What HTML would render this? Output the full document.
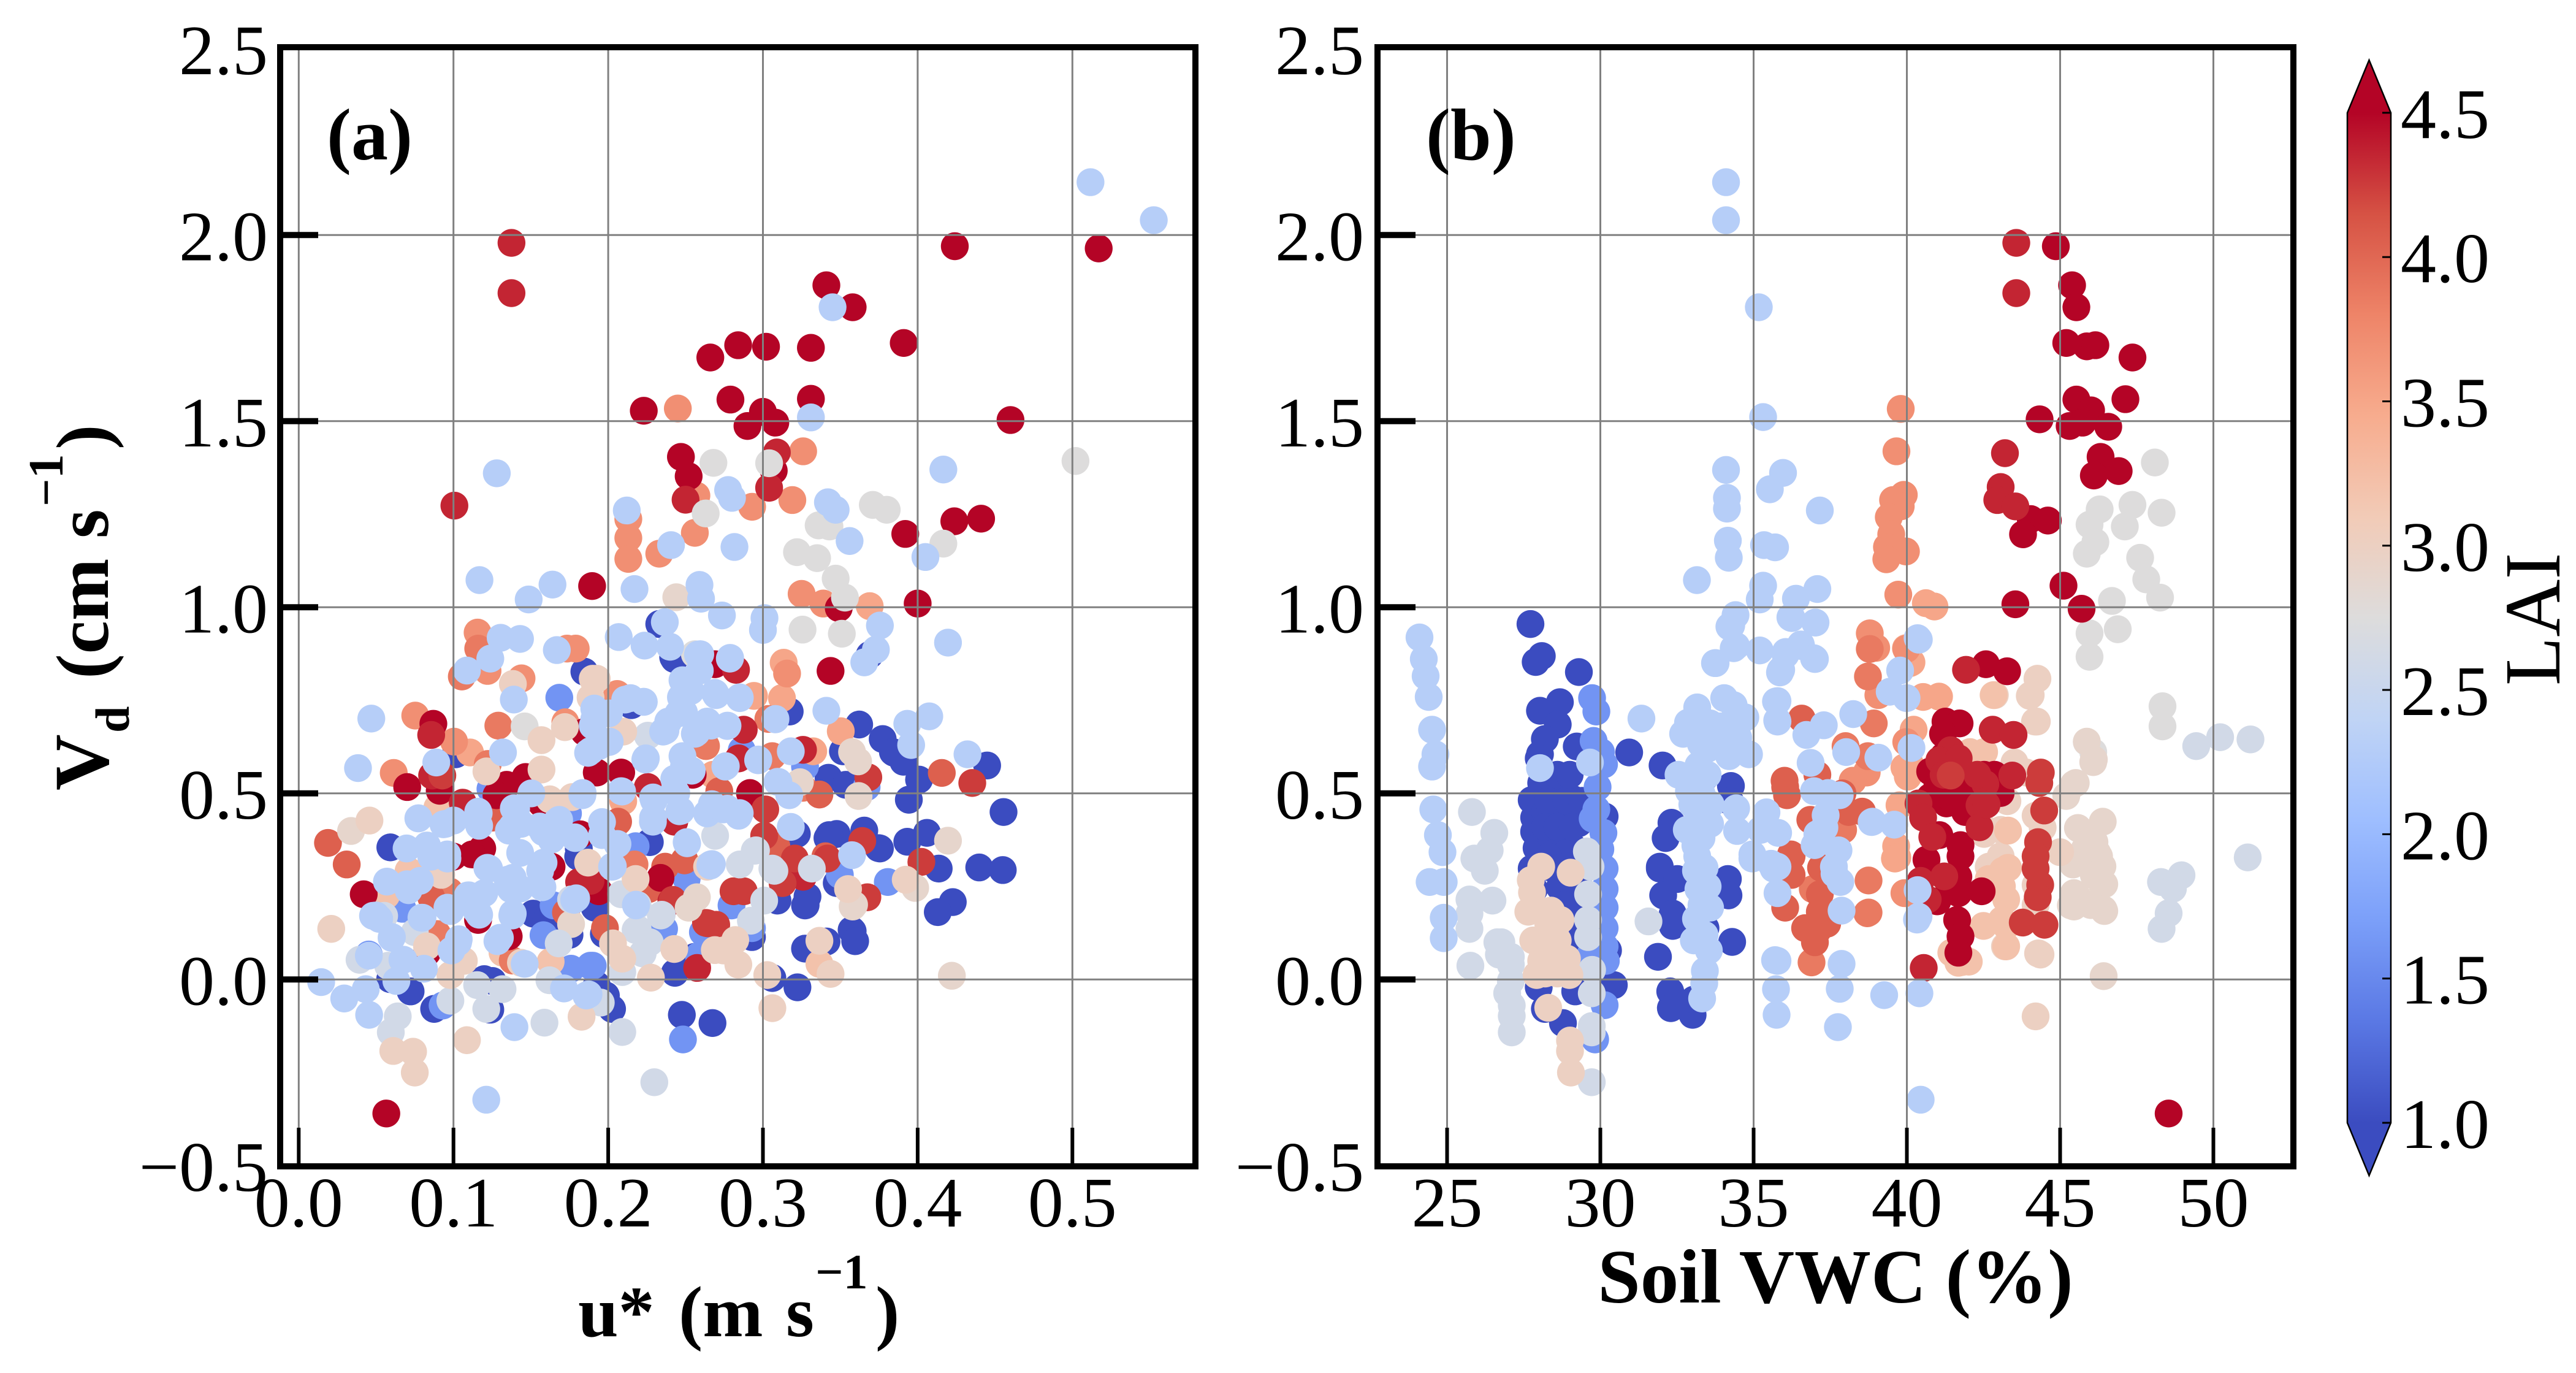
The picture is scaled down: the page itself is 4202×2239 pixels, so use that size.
<!DOCTYPE html>
<html lang="en">
<head>
<meta charset="utf-8">
<title>Vd versus u* and Soil VWC coloured by LAI</title>
<style>
html,body{margin:0;padding:0;background:#fff;width:4202px;height:2239px;overflow:hidden}
svg{display:block}
text{font-family:"Liberation Serif",serif;fill:#000}
.b{font-weight:bold}
</style>
</head>
<body>
<svg id="fig" xmlns="http://www.w3.org/2000/svg" width="4202" height="2239" viewBox="0 0 4202 2239">
<defs>
<linearGradient id="cbGrad" x1="0" y1="1" x2="0" y2="0"></linearGradient>
<clipPath id="clipA"><rect x="457" y="77" width="1493" height="1825"/></clipPath>
<clipPath id="clipB"><rect x="2247" y="77" width="1494" height="1825"/></clipPath>
</defs>
<g id="pointsA" clip-path="url(#clipA)"></g>
<g id="pointsB" clip-path="url(#clipB)"></g>
<g id="gridA"></g>
<g id="gridB"></g>
<g id="ticksA"></g>
<g id="ticksB"></g>
<rect x="457" y="77" width="1493" height="1825" fill="none" stroke="#000" stroke-width="10"/>
<rect x="2247" y="77" width="1494" height="1825" fill="none" stroke="#000" stroke-width="10"/>
<text class="b" x="533" y="260" font-size="120">(a)</text>
<text class="b" x="2326" y="260" font-size="120">(b)</text>

<g>
<text class="b" font-size="127" transform="translate(176,1289) rotate(-90)">V</text>
<text class="b" font-size="78" transform="translate(210,1195) rotate(-90)">d</text>
<text class="b" font-size="122" transform="translate(176,1107) rotate(-90)">(cm</text>
<text class="b" font-size="122" transform="translate(176,878) rotate(-90)">s</text>
<text class="b" font-size="80" transform="translate(102,826) rotate(-90)">−1</text>
<text class="b" font-size="122" transform="translate(176,733) rotate(-90)">)</text>
</g>
<g>
<text class="b" font-size="118" x="943" y="2179">u*</text>
<text class="b" font-size="118" x="1107" y="2179">(m</text>
<text class="b" font-size="118" x="1282" y="2179">s</text>
<text class="b" font-size="80" x="1330" y="2101">−1</text>
<text class="b" font-size="118" x="1428" y="2179">)</text>
</g>
<text class="b" x="2994" y="2124" font-size="125" text-anchor="middle">Soil VWC (%)</text>

<g id="colorbar">
<polygon points="3864.5,98 3900,184 3829,184" fill="#b40426"/>
<polygon points="3864.5,1917 3900,1831 3829,1831" fill="#3b4cc0"/>
<rect x="3829" y="184" width="71" height="1647" fill="url(#cbGrad)"/>
<polygon points="3864.5,98 3900,184 3900,1831 3864.5,1917 3829,1831 3829,184" fill="none" stroke="#000" stroke-width="2.5"/>
<g id="cbTicks"></g>
</g>
<text font-size="130" transform="translate(4175,1118) rotate(-90)">LAI</text>
</svg>

<script>
// Tick labels
const uTicks = [0.0, 0.1, 0.2, 0.3, 0.4, 0.5];
const vwcTicks = [25, 30, 35, 40, 45, 50];
const vdTicks = [-0.5, 0.0, 0.5, 1.0, 1.5, 2.0, 2.5];
const laiTicks = [1.0, 1.5, 2.0, 2.5, 3.0, 3.5, 4.0, 4.5];

// Panel (a): [u*, Vd] pairs, one array per LAI level
const a100 = [[.233,.955],[.369,.872],[.2427,.861],[.1846,.827],[.1014,.605],[.0592,.355],[.181,.352],[.242,.866],[.215,.737],[.3173,.72],[.3622,.685],[.3774,.646],[.384,.611],[.3517,.613],[.3847,.609],[.3908,.585],[.3424,.542],[.3536,.523],[.2269,.369],[.3219,.391],[.3417,.38],[.3477,.391],[.3655,.4],[.3747,.353],[.4449,.575],[.4555,.45],[.4009,.537],[.3943,.483],[.3428,.388],[.3756,.352],[.3933,.37],[.406,.394],[.4136,.298],[.4398,.301],[.455,.294],[.4227,.208],[.413,.181],[.3276,.2],[.358,.13],[.3477,.259],[.3288,.223],[.3272,.199],[.3094,.212],[.2929,.114],[.256,.061],[.2431,.018],[.1913,.193],[.1972,.122],[.1926,-.015],[.2025,-.079],[.1985,-.043],[.2476,-.095],[.2674,-.117],[.3061,.004],[.3223,-.021],[.3272,.083],[.3411,.102],[.3573,.133],[.3596,.103],[.0591,.001],[.0723,-.032],[.0875,-.079],[.1199,.001],[.1252,-.004],[.1238,-.081],[.1515,.177],[.1806,.33],[.16,.16],[.175,.12],[.23,.25],[.27,.1]];
const a160 = [[.1684,.757],[.3272,.572],[.367,.517],[.2863,.616],[.1239,.512],[.174,.446],[.2177,.358],[.067,.19],[.0453,.067],[.093,-.07],[.1582,.119],[.176,.029],[.1885,.037],[.1647,.199],[.3497,.281],[.3807,.262],[.2507,.27],[.2797,.199],[.2929,.138],[.2612,.127],[.2586,.064],[.19,.037],[.2483,-.161],[.2361,.136]];
const a320 = [[.0896,.462],[.071,.292],[.0565,.226],[.1317,.072],[.1628,.048],[.3365,.042]];
const a350 = [[.1107,.61],[.2942,.762],[.3134,.851],[.3123,.756],[.3503,.667],[.3325,.613],[.2097,.479],[.2678,.55],[.369,1.003]];
const a370 = [[.245,1.534],[.257,1.30],[.326,1.419],[.293,1.27],[.319,1.288],[.213,1.237],[.213,1.186],[.213,1.13],[.233,1.144],[.256,1.2],[.325,1.036],[.339,1.01],[.1156,.932],[.122,.829],[.1734,.889],[.179,.889],[.144,.809],[.0753,.709],[.1004,.639],[.1723,.691],[.0614,.555],[.3156,.822],[.2058,.767]];
const a387 = [[.116,.889],[.1054,.814],[.129,.682],[.1222,.579],[.3035,.7],[.306,.6],[.2632,.627],[.3259,.515],[.0974,.237],[.0895,.122],[.1383,.051],[.217,.309]];
const a405 = [[.0189,.367],[.1252,.435],[.2718,.506],[.2064,.424],[.3365,.497],[.3087,.358],[.3404,.331],[.031,.309],[.0856,.221],[.1727,.18],[.2368,.303],[.2493,.32],[.2262,.243],[.1979,.138],[.4156,.555]];
const a450 = [[.424,1.97],[.517,1.964],[.341,1.865],[.358,1.806],[.266,1.671],[.284,1.704],[.302,1.70],[.331,1.697],[.391,1.71],[.223,1.528],[.279,1.558],[.30,1.525],[.331,1.56],[.29,1.487],[.308,1.496],[.46,1.503],[.247,1.404],[.252,1.352],[.307,1.367],[.392,1.197],[.4237,1.231],[.441,1.238],[.1896,1.057],[.349,.998],[.4,1.01],[.269,.847],[.3437,.829],[.087,.687],[.1846,.665],[.0701,.517],[.0911,.507],[.1466,.544],[.1344,.523],[.1278,.495],[.1569,.473],[.182,.39],[.1186,.352],[.2916,.501],[.2546,.55],[.2084,.556],[.1926,.556],[.042,.229],[.0829,.072],[.1159,.16],[.1357,.116],[.1634,.303],[.112,.336],[.1832,.259],[.2338,.273],[.1939,.237],[.0566,-.36],[.1,.33]];
const a435 = [[.1375,1.979],[.1375,1.844],[.25,1.289],[.309,1.416],[.304,1.321],[.1006,1.273],[.2826,.832],[.0856,.657],[.0862,.548],[.106,.475],[.2876,.671],[.3259,.617],[.2843,.594],[.2256,.517],[.2427,.424],[.1812,.262],[.1886,.265],[.2408,.21],[.3259,.276],[.2575,.031]];
const a425 = [[.0928,.548],[.3681,.543],[.3015,.457],[.3008,.386],[.3206,.325],[.3642,.372],[.4024,.316],[.4353,.528],[.3127,.259],[.3417,.325],[.3675,.221],[.281,.237],[.2876,.237],[.2632,.152],[.2698,.147],[.2417,.214],[.2644,.151]];
const a290 = [[.0338,.399],[.3576,.611],[.3615,.586],[.3239,.53],[.3618,.493],[.3589,.201],[.176,.149],[.2573,.221],[.252,.193],[.4196,.373],[.3984,.246],[.358,.196],[.4221,.01],[.244,1.027]];
const a275 = [[.268,1.388],[.304,1.387],[.502,1.393],[.371,1.275],[.38,1.262],[.336,1.22],[.343,1.217],[.263,1.252],[.4166,1.171],[.322,1.148],[.335,1.132],[.347,1.077],[.353,1.026],[.3256,.94],[.351,.929],[.146,.68],[.256,.874]];
const a260 = [[.2256,.655],[.0552,.171],[.075,.127],[.0393,.053],[.0578,.037],[.064,-.099],[.0595,-.142],[.098,-.057],[.1153,-.015],[.1317,-.026],[.1212,-.079],[.1588,-.116],[.168,.097],[.162,-.002],[.176,.215],[.2084,.229],[.285,.309],[.3061,.298],[.3316,.298],[.3008,.212],[.2922,.158],[.2346,.174],[.2177,.133],[.2223,.07],[.2269,.1],[.2091,.02],[.1952,-.062],[.2091,-.141],[.2298,-.276],[.2955,.347],[.2691,.386],[.2947,.346],[.3074,.292],[.219,.2],[.234,.172],[.219,.136],[.226,.1]];
const a300 = [[.1384,.794],[.1886,.757],[.19,.808],[.172,.678],[.1569,.643],[.1213,.559],[.1569,.564],[.1622,.484],[.1767,.49],[.0457,.427],[.021,.136],[.2097,.666],[.1926,.808],[.0829,.089],[.098,.012],[.1067,.05],[.0611,-.192],[.0739,-.194],[.075,-.25],[.1087,-.163],[.1828,-.1],[.0921,.281],[.187,.314],[.1436,.045],[.2639,.303],[.2177,.27],[.355,.243],[.2689,.079],[.2821,.106],[.2841,.04],[.2744,.078],[.2427,.082],[.2276,.005],[.2091,.056],[.2031,.097],[.3028,.012],[.3061,-.077],[.3437,.015],[.3365,.104],[.3923,.268]];
const a230 = [[.5117,2.142],[.5526,2.04],[.345,1.806],[.331,1.51],[.4166,1.37],[.128,1.36],[.2775,1.315],[.28,1.294],[.342,1.282],[.347,1.262],[.212,1.26],[.2406,1.167],[.2816,1.162],[.356,1.178],[.405,1.135],[.1168,1.073],[.164,1.061],[.1486,1.021],[.217,1.049],[.259,1.06],[.26,1.023],[.2366,.96],[.2735,.978],[.301,.971],[.30,.939],[.3756,.951],[.4196,.905],[.373,.886],[.3655,.852],[.2068,.92],[.2235,.897],[.24,.894],[.258,.873],[.2786,.862],[.1305,.918],[.143,.915],[.1238,.862],[.1087,.83],[.1668,.885],[.139,.752],[.0469,.701],[.19,.682],[.1886,.614],[.0383,.568],[.0889,.583],[.132,.61],[.1503,.5],[.1833,.495],[.139,.46],[.1358,.4],[.1437,.418],[.1668,.424],[.1787,.38],[.158,.396],[.1166,.413],[.116,.451],[.1001,.427],[.0948,.418],[.0773,.433],[.0697,.352],[.0829,.36],[.096,.336],[.2788,.864],[.2595,.874],[.2592,.83],[.248,.804],[.2533,.775],[.2698,.764],[.285,.756],[.3081,.7],[.341,.722],[.318,.613],[.3094,.531],[.317,.495],[.2771,.682],[.2665,.682],[.256,.66],[.2454,.715],[.2388,.693],[.2355,.666],[.2243,.594],[.248,.6],[.2427,.539],[.2757,.572],[.2969,.589],[.2678,.457],[.2639,.446],[.2744,.457],[.2843,.44],[.246,.452],[.2295,.482],[.2427,.506],[.2289,.424],[.2507,.369],[.2084,.506],[.2229,.746],[.2144,.756],[.1926,.715],[.2005,.638],[.1939,.627],[.2005,.715],[.318,.41],[.3576,.334],[.057,.263],[.071,.24],[.0783,.265],[.0961,.193],[.048,.171],[.052,.163],[.0602,.114],[.0793,.166],[.0677,.053],[.0809,.029],[.0631,-.004],[.0453,.064],[.0145,-.007],[.0294,-.051],[.0433,-.026],[.0455,-.095],[.1212,-.323],[.1394,-.128],[.1034,.108],[.0987,.078],[.1166,.174],[.1093,.226],[.1284,.103],[.1199,.232],[.1383,.177],[.137,.243],[.146,.042],[.1714,-.024],[.1859,-.043],[.1793,.218],[.1575,.248],[.1383,.273],[.1582,.314],[.1219,.3],[.0961,.325],[.0856,.33],[.2025,.303],[.2662,.309],[.2179,.201],[.1873,-.04],[.4075,.707],[.3933,.687],[.3958,.63],[.4322,.605],[.267,.31],[.0774,.433],[.0935,.417],[.1163,.447],[.1405,.459],[.138,.411],[.1557,.411],[.1683,.429],[.1431,.34],[.1633,.376],[.1785,.382],[.196,.423],[.196,.388],[.206,.364],[.1835,.501],[.191,.699],[.201,.639],[.187,.609],[.191,.728],[.211,.752],[.223,.746],[.229,.435],[.247,.453],[.251,.366],[.266,.306],[.267,.471],[.285,.447],[.277,.459],[.209,.505],[.229,.489],[.244,.501],[.249,.573],[.224,.591],[.254,.561],[.276,.573],[.297,.591],[.31,.531],[.237,.669],[.249,.717],[.264,.693],[.277,.681],[.257,.663],[.285,.758],[.269,.77],[.247,.758],[.308,.699],[.123,.298],[.135,.268],[.156,.292],[.143,.244],[.11,.226],[.115,.184],[.138,.172],[.13,.112],[.103,.1],[.098,.184],[.08,.166],[.07,.256],[.05,.172],[.06,.112],[.067,.053],[.138,.256],[.178,.214],[.218,.199],[.203,.304]];

// Panel (b): [soil VWC, Vd] pairs, one array per LAI level
const b100 = [[27.72,.955],[28.09,.869],[27.89,.853],[29.3,.826],[28.68,.745],[28.03,.722],[28.61,.685],[28.19,.646],[29.23,.626],[28.03,.605],[27.99,.594],[28.07,.528],[29.12,.484],[27.76,.482],[28.68,.462],[27.84,.397],[28.91,.435],[27.92,.353],[29.14,.353],[27.84,.435],[30.14,.438],[30.94,.61],[32.03,.575],[33.43,.545],[34.26,.52],[34.23,.479],[32.32,.421],[32.13,.38],[31.94,.303],[27.76,.298],[31.94,.298],[32.05,.226],[32.36,.177],[32.36,.144],[32.51,.27],[34.16,.27],[34.18,.226],[33.43,.138],[34.3,.101],[31.88,.061],[32.28,-.032],[32.3,-.077],[33.01,-.095],[33.05,-.054],[28.68,.248],[29.07,.215],[27.99,-.021],[29.18,-.032],[28.19,-.079],[28.78,-.117],[30.44,-.015],[30.25,.078],[27.84,.243],[29.14,.094],[28.3,.4],[28.5,.5],[28.4,.3],[29.3,.28],[28.2,.45],[28.3,.48],[28.9,.48],[29.3,.42],[28.4,.38],[28.9,.34],[28.2,.55],[28.6,.55],[29.0,.55],[28.2,.41],[28.6,.41],[29.1,.41],[29.4,.48],[28.3,.33],[28.7,.3],[29.2,.3],[28.8,.2],[29.0,.15]];
const b160 = [[29.73,.756],[29.87,.72],[29.78,.641],[30.02,.611],[30.12,.578],[29.91,.517],[29.87,.457],[29.75,.432],[30.1,.394],[30.14,.298],[30.14,.243],[30.14,.193],[30.14,.138],[30.14,.089],[30.18,.05],[29.68,.067],[30.14,-.069],[29.83,-.161],[30.0,.35]];
const b260 = [[29.56,.344],[25.81,.45],[26.54,.394],[26.39,.347],[25.89,.325],[26.23,.292],[25.73,.215],[26.48,.212],[25.73,.177],[25.73,.136],[25.76,.037],[26.64,.1],[26.77,.1],[26.69,.067],[27.08,.04],[27.08,-.004],[26.96,-.037],[27.11,-.07],[27.11,-.098],[27.11,-.142],[27.08,.061],[29.6,.229],[29.6,.16],[29.6,.114],[29.73,.026],[29.72,-.037],[29.72,-.125],[29.72,-.142],[29.72,-.276],[31.57,.156],[29.68,.303],[49.44,.627],[50.22,.651],[51.21,.645],[51.12,.328],[48.29,.262],[48.96,.28],[48.68,.244],[48.54,.178],[48.31,.136]];
const b275 = [[48.09,1.389],[47.36,1.275],[46.29,1.263],[48.31,1.254],[45.96,1.222],[47.11,1.217],[46.15,1.175],[45.87,1.144],[47.61,1.133],[47.81,1.075],[46.69,1.017],[48.26,1.026],[45.96,.93],[46.88,.941],[45.96,.867],[48.34,.734],[48.34,.68],[45.87,.638],[46.08,.611]];
const b290 = [[46.08,.584],[45.51,.528],[45.2,.493],[45.58,.407],[46.39,.424],[46.12,.369],[46.27,.331],[45.35,.199],[45.54,.226],[46.42,.188],[46.38,.254],[46.31,.309],[45.42,.309],[46.42,.009],[45.87,.639],[46.1,.591],[45.45,.525],[45.59,.406],[46.21,.34],[45.59,.316],[46.38,.304],[46.44,.256],[45.45,.232],[45.45,.196],[46.44,.184],[45.8,.35],[46.1,.28],[46.0,.2]];
const b300 = [[28.07,.303],[29.03,.287],[27.73,.267],[27.77,.234],[27.65,.182],[28.39,.185],[28.53,.138],[27.81,.105],[28.61,.105],[28.07,.05],[28.91,.056],[28.99,.012],[27.92,.012],[28.38,.05],[28.3,-.076],[29.01,-.164],[29.01,-.192],[29.04,-.25],[44.26,.808],[44.01,.762],[44.24,.693],[44.04,.764],[44.18,.693],[44.2,.44],[44.43,.408],[43.51,.583],[43.9,.556],[43.28,.479],[43.06,.402],[42.6,.402],[42.52,.391],[43.06,.331],[42.67,.303],[45,.342],[44.28,.07],[44.36,.067],[44.2,-.099],[44.2,.254],[43.2,.089],[44.3,.07],[42.87,.764],[28.4,.1],[28.5,.02],[28.7,.05],[28.3,.15],[28.2,.05],[28.7,.16],[28.2,.016],[28.6,.016],[28.8,.02],[44.2,.2]];
const b320 = [[42.83,.764],[42.06,.611],[42.52,.611],[43.13,.292],[43.24,.215],[43.24,.144],[43.24,.089],[42.5,.144],[41.68,.045],[42.02,.048],[41.45,.072],[42.67,.27],[41.8,.047],[43.3,.4],[43.1,.25],[43.3,.3],[43.1,.16]];
const b350 = [[40.62,1.011],[40.9,1.002],[39.97,.89],[40.1,.85],[40.15,.852],[40.53,.759],[41.05,.76],[40.22,.671],[39.92,.57],[40.03,.545],[39.76,.468],[39.65,.358],[39.65,.328],[39.61,.325],[39.69,.328],[39.97,.232],[40.1,.579]];
const b370 = [[39.8,1.533],[39.66,1.419],[39.9,1.302],[39.55,1.288],[39.8,1.271],[39.41,1.242],[39.49,1.196],[39.35,1.162],[39.97,1.15],[39.33,1.129],[39.72,1.034],[38.79,.93],[39,.891],[39.98,.888],[39.07,.764],[39.98,.638],[38.69,.556],[38.23,.534],[39.92,.232]];
const b387 = [[38.79,.888],[38.73,.814],[38.92,.688],[38,.627],[38.73,.6],[37.92,.402],[38.75,.266],[38.75,.18],[36.89,.046],[36.93,.243],[38.71,.178],[36.88,.136]];
const b405 = [[36.57,.701],[37.08,.55],[36.01,.534],[36.09,.495],[36.03,.517],[38.54,.451],[36.85,.429],[36.24,.331],[36.24,.281],[36.03,.193],[37.16,.229],[37.16,.182],[36.68,.138],[37.1,.133],[36.22,.336],[37.5,.3],[38.1,.45],[37.9,.5],[37.2,.3],[37.4,.15],[37.0,.1]];
const b450 = [[44.86,1.97],[45.39,1.865],[45.53,1.806],[45.2,1.71],[45.87,1.701],[46.15,1.704],[47.36,1.671],[45.53,1.558],[46.01,1.529],[47.13,1.559],[44.33,1.505],[45.31,1.487],[45.73,1.496],[46.57,1.485],[46.32,1.404],[46.91,1.366],[46.1,1.354],[44.04,1.237],[44.6,1.233],[43.79,1.196],[45.11,1.058],[43.54,1.008],[45.7,.996],[42.58,.847],[43.27,.828],[41.26,.693],[41.72,.688],[41.18,.66],[40.76,.559],[42.52,.55],[42.86,.55],[43.06,.501],[40.99,.517],[41.29,.473],[40.76,.49],[41.06,.388],[41.75,.361],[41.75,.331],[40.64,.322],[41.68,.276],[41.68,.232],[42.44,.237],[41.64,.16],[41.75,.116],[41.68,.072],[40.99,.21],[48.54,-.36],[41.2,.6],[41.6,.55],[42,.52],[41.5,.48],[41.9,.45]];
const b435 = [[43.57,1.979],[43.57,1.844],[43.2,1.414],[43.06,1.323],[42.95,1.288],[43.54,1.271],[41.93,.832],[42.8,.671],[43.48,.657],[41.43,.616],[41.06,.589],[41.69,.594],[42.56,.525],[43.44,.548],[40.38,.473],[42.37,.468],[42.37,.409],[40.53,.435],[40.83,.383],[41.22,.277],[40.45,.265],[40.68,.215],[40.55,.031],[41.2,.55],[42.3,.55],[42.6,.47]];
const b425 = [[41.43,.548],[44.37,.556],[44.32,.528],[44.48,.454],[44.28,.369],[44.2,.331],[44.2,.298],[44.35,.254],[44.27,.221],[43.78,.153],[44.49,.147]];
const b230 = [[34.1,2.142],[34.1,2.04],[35.17,1.806],[35.31,1.511],[34.1,1.369],[35.96,1.361],[35.53,1.317],[34.13,1.294],[34.13,1.265],[37.16,1.26],[34.16,1.179],[35.34,1.167],[35.7,1.161],[34.19,1.133],[33.15,1.073],[35.31,1.058],[35.2,1.021],[37.08,1.049],[36.38,1.023],[36.24,.971],[37.02,.959],[34.41,.979],[34.21,.948],[34.35,.89],[35.2,.884],[36.04,.873],[36.54,.9],[37,.861],[33.74,.85],[35.9,.832],[40.39,.913],[24.1,.919],[24.24,.861],[24.3,.815],[24.4,.759],[24.51,.671],[24.62,.605],[24.51,.572],[24.55,.457],[24.7,.388],[24.85,.342],[24.89,.262],[24.43,.262],[24.89,.166],[24.89,.111],[28.03,.568],[29.66,.583],[31.34,.701],[34.27,.951],[34.43,.896],[33.76,.85],[35.88,.83],[35.73,.747],[35.77,.696],[34.04,.756],[33.16,.731],[32.86,.69],[32.7,.66],[34.73,.704],[34.35,.737],[33.58,.688],[34.35,.611],[34.85,.605],[33.28,.633],[33.2,.575],[32.55,.55],[32.89,.506],[34.43,.46],[35.42,.449],[34.46,.399],[35.8,.394],[34.96,.336],[33.58,.418],[33.12,.418],[32.82,.402],[33.16,.331],[35.57,.311],[35.23,.402],[33.12,.292],[33.2,.243],[33.58,.193],[33.12,.163],[33.05,.105],[33.54,.078],[33.41,.023],[33.39,-.01],[33.32,-.051],[34.96,.325],[35.65,.298],[35.78,.232],[35.7,.052],[35.73,-.026],[35.75,-.095],[40.35,.917],[39.78,.83],[39.44,.773],[39.99,.756],[40.15,.622],[38.25,.713],[39.07,.596],[38.02,.611],[37.29,.683],[36.72,.657],[36.86,.582],[36.97,.506],[37.43,.501],[37.81,.495],[37.35,.441],[37.31,.408],[37.08,.391],[36.99,.361],[37.77,.347],[37.62,.303],[38.88,.424],[39.59,.416],[36.2,.973],[37.01,.959],[36.55,.896],[36.97,.863],[36.05,.88],[35.86,.825],[35.78,.748],[35.78,.693],[40.35,.24],[40.38,.169],[40.33,.161],[37.64,.284],[37.83,.262],[37.87,.185],[35.78,.303],[37.87,.042],[37.81,-.025],[39.26,-.042],[40.41,-.037],[37.75,-.128],[40.45,-.323],[35.78,.05],[38.85,.423],[33.0,.47],[33.1,.36],[33.3,.5],[33.5,.55],[33.6,.47],[33.3,.38],[33.4,.3],[33.5,.25],[33.3,.2],[33.4,.12],[33.5,.62],[34.1,.65],[34.5,.65],[33.9,.68],[34.2,.6]];

// Draw order and the LAI value of each group
const aLai = [1.0, 1.6, 3.2, 3.5, 3.7, 3.87, 4.05, 4.5, 4.35, 4.25, 2.9, 2.75, 2.6, 3.0, 2.3];
const aGroups = [a100, a160, a320, a350, a370, a387, a405, a450, a435, a425, a290, a275, a260, a300, a230];
const bLai = [1.0, 1.6, 2.6, 2.75, 2.9, 3.0, 3.2, 3.5, 3.7, 3.87, 4.05, 4.5, 4.35, 4.25, 2.3];
const bGroups = [b100, b160, b260, b275, b290, b300, b320, b350, b370, b387, b405, b450, b435, b425, b230];

// Matplotlib coolwarm colormap samples at 0, 0.1 ... 1.0
const coolwarm = ['#3b4cc0','#5a78e4','#7b9ff9','#9ebeff','#c0d4f5','#dddcdc','#f2cbb7','#f7ac8e','#ee8468','#d65244','#b40426'];

const NS = 'http://www.w3.org/2000/svg';
const xA = u => 487.3 + u * 2524;
const xB = w => 2360.5 + (w - 25) * 50;
const yV = v => 1597.3 - v * 607;
const yC = l => 1831 - (l - 1) * 470.6;

function hexRgb(h){return [1,3,5].map(i=>parseInt(h.substr(i,2),16));}
function laiColor(l){
  const n = Math.max(0, Math.min(1, (l - 1) / 3.5)) * 10;
  const i = Math.min(9, Math.floor(n));
  const f = n - i;
  const p = hexRgb(coolwarm[i]);
  const q = hexRgb(coolwarm[i + 1]);
  return 'rgb(' + p.map((c,k)=>Math.round(c + (q[k]-c)*f)).join(',') + ')';
}
function mk(tag, attrs, parent){
  const el = document.createElementNS(NS, tag);
  for (const k in attrs) el.setAttribute(k, attrs[k]);
  parent.appendChild(el);
  return el;
}
function fmt(v){ return (v < 0 ? '\u2212' : '') + Math.abs(v).toFixed(1); }

// colorbar gradient
const grad = document.getElementById('cbGrad');
coolwarm.forEach((c,i)=>{ mk('stop', {offset: (i*10)+'%', 'stop-color': c}, grad); });

function drawPoints(targetId, groups, lais, xf, panel){
  const g = document.getElementById(targetId);
  groups.forEach((grp, gi)=>{
    const col = laiColor(lais[gi]);
    grp.forEach(p=>{
      const el = mk('circle', {cx: xf(p[0]), cy: yV(p[1]), r: 22.7, fill: col}, g);
      
      
    });
  });
}
drawPoints('pointsA', aGroups, aLai, xA, 'panel-a');
drawPoints('pointsB', bGroups, bLai, xB, 'panel-b');

function drawAxes(gridId, tickId, xf, xTicks, xDigits, left, right, yLabelRight, panel){
  const grid = document.getElementById(gridId);
  const ticks = document.getElementById(tickId);
  xTicks.forEach(t=>{
    const X = xf(t);
    const gl = mk('line', {x1:X, x2:X, y1:77, y2:1902, stroke:'#808080', 'stroke-width':3}, grid);
    
    
    const tk = mk('line', {x1:X, x2:X, y1:1902, y2:1839, stroke:'#000', 'stroke-width':6}, ticks);
    
    
    const tx = mk('text', {x:X, y:2000, 'font-size':116, 'text-anchor':'middle'}, ticks);
    
    
    tx.textContent = xDigits ? t.toFixed(xDigits) : String(t);
  });
  vdTicks.forEach(t=>{
    const Y = yV(t);
    if (t > -0.5 && t < 2.5) {
      const gl = mk('line', {x1:left, x2:right, y1:Y, y2:Y, stroke:'#808080', 'stroke-width':3}, grid);
      
      
      const tk = mk('line', {x1:left, x2:left+62, y1:Y, y2:Y, stroke:'#000', 'stroke-width':10}, ticks);
      
      
    }
    const tx = mk('text', {x:yLabelRight, y:Y+41, 'font-size':116, 'text-anchor':'end'}, ticks);
    
    
    tx.textContent = fmt(t);
  });
}
drawAxes('gridA', 'ticksA', xA, uTicks, 1, 457, 1950, 437, 'panel-a');
drawAxes('gridB', 'ticksB', xB, vwcTicks, 0, 2247, 3741, 2225, 'panel-b');

const cbT = document.getElementById('cbTicks');
laiTicks.forEach(t=>{
  const Y = yC(t);
  const tk = mk('line', {x1:3886, x2:3900, y1:Y, y2:Y, stroke:'#000', 'stroke-width':3}, cbT);
  
  
  const tx = mk('text', {x:3916, y:Y+41, 'font-size':116}, cbT);
  
  
  tx.textContent = t.toFixed(1);
});
</script>
</body>
</html>
